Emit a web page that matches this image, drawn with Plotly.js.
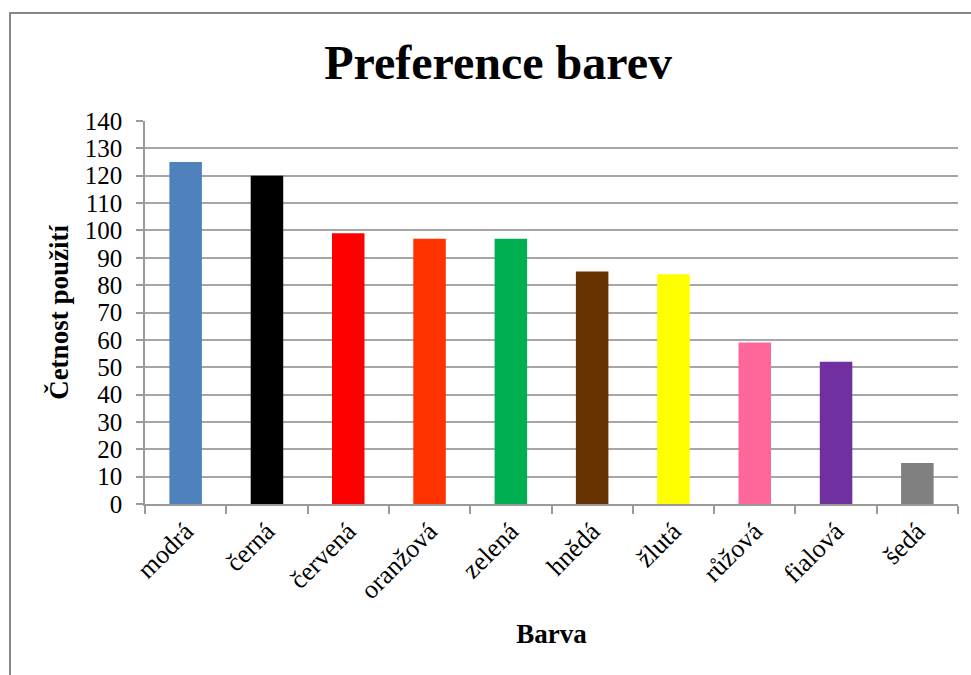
<!DOCTYPE html>
<html>
<head>
<meta charset="utf-8">
<script src="https://cdn.plot.ly/plotly-3.0.1.min.js"></script>
<style>
  html, body { margin: 0; padding: 0; background: #fff; }
  #chart { width: 971px; height: 675px; position: absolute; left: 0; top: 0; }
  #frame { position: absolute; left: 9px; top: 12px; width: 980px; height: 700px;
           border: 2px solid #878787; box-sizing: border-box; pointer-events: none; }
</style>
</head>
<body>
<div id="chart"></div>
<div id="frame"></div>
<script>
const categories = ["modrá", "černá", "červená", "oranžová", "zelená", "hnědá", "žlutá", "růžová", "fialová", "šedá"];
const counts = [125, 120, 99, 97, 97, 85, 84, 59, 52, 15];
const barColors = ["#4f81bd", "#000000", "#ff0000", "#ff3300", "#00b050", "#663300", "#ffff00", "#ff6699", "#7030a0", "#808080"];
const yTicks = [0, 10, 20, 30, 40, 50, 60, 70, 80, 90, 100, 110, 120, 130, 140];

const font = "'Liberation Serif', 'Times New Roman', serif";

Plotly.newPlot("chart", [{
  type: "bar",
  x: categories,
  y: counts,
  marker: { color: barColors, line: { width: 0 } },
  hoverinfo: "x+y"
}], {
  width: 971, height: 675,
  font: { family: font, color: "#000" },
  paper_bgcolor: "#ffffff",
  plot_bgcolor: "#ffffff",
  margin: { l: 145, r: 13, t: 121, b: 171 },
  bargap: 0.6,
  showlegend: false,
  title: {
    text: "<b>Preference barev</b>",
    font: { family: font, size: 48, color: "#000" },
    x: 0.513, xanchor: "center",
    y: 0.908, yanchor: "middle"
  },
  xaxis: {
    type: "category",
    tickangle: -45,
    tickfont: { family: font, size: 26, color: "#000" },
    tickson: "boundaries",
    ticks: "outside", ticklen: 8, tickcolor: "#9a9a9a", tickwidth: 1.5,
    showline: true, linecolor: "#9a9a9a", linewidth: 1.5,
    showgrid: false,
    title: { text: "<b>Barva</b>", font: { family: font, size: 27, color: "#000" }, standoff: 20 },
    automargin: false
  },
  yaxis: {
    range: [0, 140],
    tickvals: yTicks,
    tickfont: { family: font, size: 25, color: "#000" },
    ticks: "outside", ticklen: 7, tickcolor: "#9a9a9a", tickwidth: 1.5,
    ticklabelstandoff: 9,
    showline: true, linecolor: "#9a9a9a", linewidth: 1.5,
    showgrid: true, gridcolor: "#a6a6a6", gridwidth: 1.5,
    zeroline: false,
    title: { text: "<b>Četnost použití</b>", font: { family: font, size: 27, color: "#000" }, standoff: 8 },
    automargin: false
  }
}, { displayModeBar: false });
</script>
</body>
</html>
